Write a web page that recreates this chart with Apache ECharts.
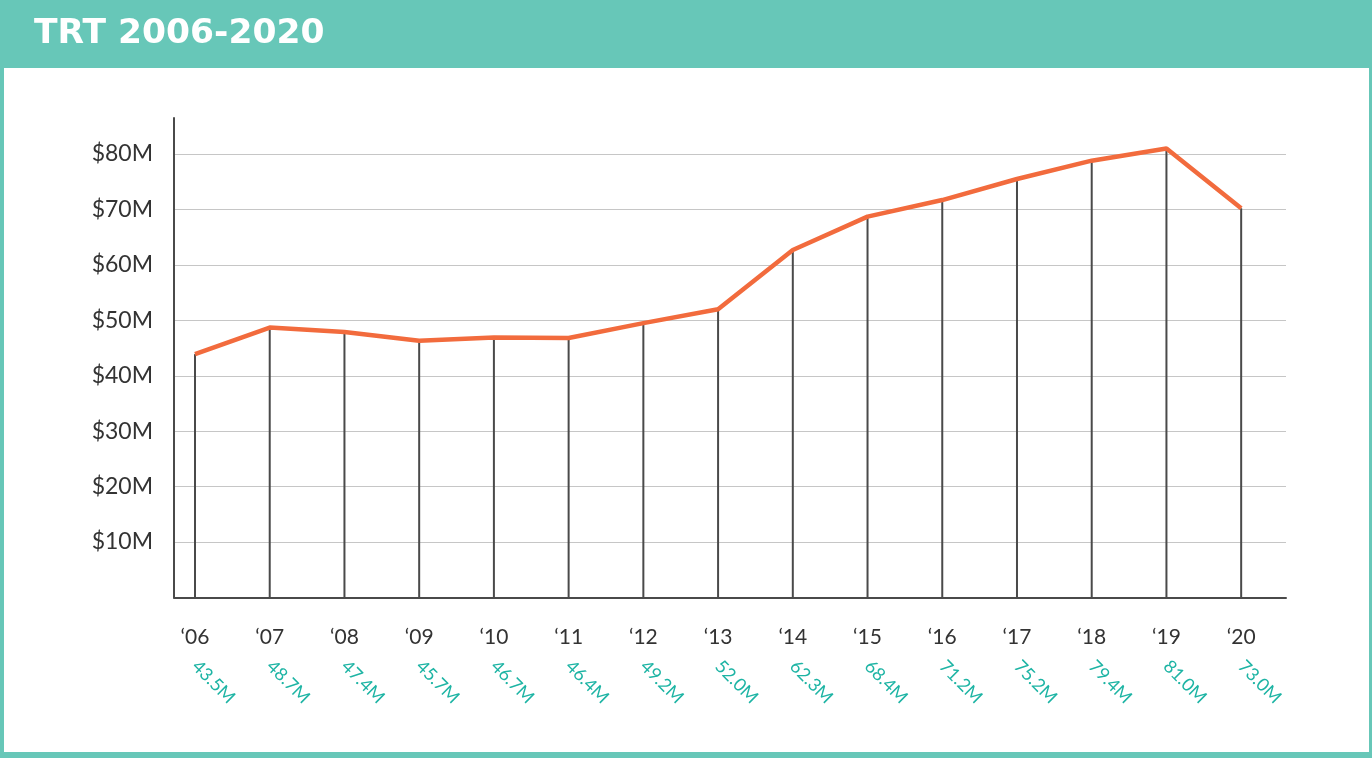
<!DOCTYPE html>
<html>
<head>
<meta charset="utf-8">
<script src="https://cdn.jsdelivr.net/npm/echarts@6/dist/echarts.min.js"></script>
<style>
html,body{margin:0;padding:0;background:#67C7B8;}
#chart{width:1372px;height:758px;}
</style>
</head>
<body>
<div id="chart"></div>
<script>
// Category tick labels
const years = ['\u201806','\u201807','\u201808','\u201809','\u201810','\u201811','\u201812','\u201813','\u201814','\u201815','\u201816','\u201817','\u201818','\u201819','\u201820'];
// Printed value labels under each year
const valueLabels = ['43.5M','48.7M','47.4M','45.7M','46.7M','46.4M','49.2M','52.0M','62.3M','68.4M','71.2M','75.2M','79.4M','81.0M','73.0M'];
// Plotted line values ($M)
const trtValues = [43.9, 48.7, 47.9, 46.3, 46.9, 46.8, 49.5, 52.0, 62.7, 68.7, 71.7, 75.5, 78.8, 81.0, 70.2];
const titleText = 'TRT 2006-2020';

const idx = years.map((_, i) => i);
const lineData = trtValues.map((v, i) => [i, v]);

const chart = echarts.init(document.getElementById('chart'), null, {renderer: 'canvas'});
chart.setOption({
  backgroundColor: '#67C7B8',
  animation: false,
  graphic: [{
    type: 'rect', left: 4, top: 68, z: -10, silent: true,
    shape: {width: 1365, height: 684},
    style: {fill: '#ffffff'}
  }],
  title: {
    text: titleText, left: 34, top: 17, padding: 0,
    textStyle: {color: '#ffffff', fontFamily: 'DejaVu Sans', fontWeight: 'bold', fontSize: 34.5}
  },
  grid: {left: 174, right: 86, top: 118, bottom: 160.5, containLabel: false},
  xAxis: [{
    type: 'value', position: 'bottom', min: -0.281, max: 14.6,
    splitLine: {show: false},
    axisTick: {show: false},
    axisLine: {show: true, onZero: false, lineStyle: {color: '#4a4a4a', width: 2}},
    axisLabel: {
      customValues: idx, margin: 29, color: '#333333',
      fontFamily: 'Lato', fontSize: 21,
      formatter: v => years[Math.round(v)]
    }
  }, {
    type: 'value', position: 'bottom', min: -0.281, max: 14.6,
    splitLine: {show: false},
    axisTick: {show: false},
    axisLine: {show: false, onZero: false},
    axisLabel: {
      customValues: idx, margin: 66, rotate: -45, color: '#1DB4A4',
      fontFamily: 'Lato', fontSize: 18,
      formatter: v => valueLabels[Math.round(v)]
    }
  }],
  yAxis: {
    type: 'value', min: 0, max: 86.5, interval: 10,
    axisLine: {show: true, onZero: false, lineStyle: {color: '#4a4a4a', width: 2}},
    axisTick: {show: false},
    splitLine: {show: true, showMinLine: false, showMaxLine: false, lineStyle: {color: '#c6c6c6', width: 1}},
    axisLabel: {
      showMinLabel: false, showMaxLabel: false, margin: 21,
      color: '#333333', fontFamily: 'Lato', fontSize: 23,
      formatter: v => '$' + v + 'M'
    }
  },
  series: [{
    type: 'bar', xAxisIndex: 0, data: lineData, barWidth: 2,
    itemStyle: {color: '#4a4a4a'}, z: 2
  }, {
    type: 'line', xAxisIndex: 0, data: lineData, symbol: 'none',
    lineStyle: {color: '#F26B3D', width: 4.5}, z: 5
  }]
});
</script>
</body>
</html>
